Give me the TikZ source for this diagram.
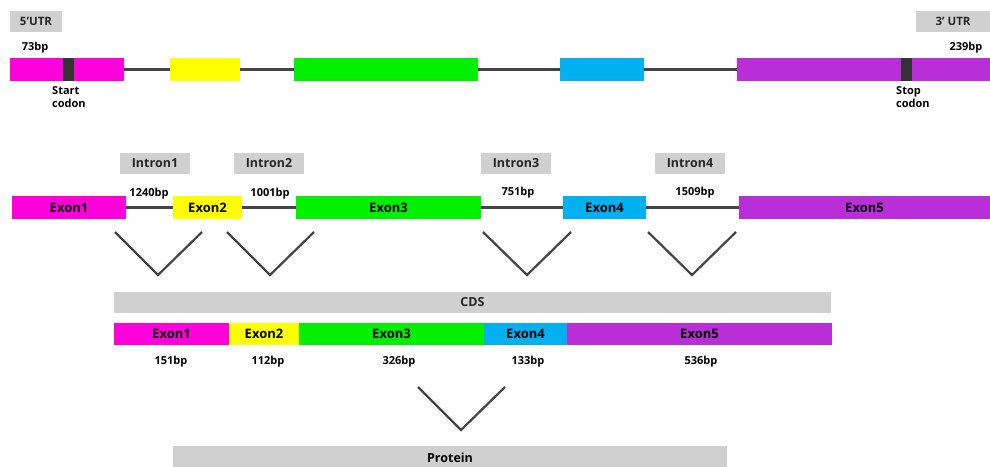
\documentclass[tikz,border=0pt]{standalone}
\usepackage{fontspec}
\setmainfont{Open Sans}
\definecolor{cMag}{HTML}{FF00DC}
\definecolor{cYel}{HTML}{FFFF00}
\definecolor{cGrn}{HTML}{00F000}
\definecolor{cBlu}{HTML}{00B0F0}
\definecolor{cPur}{HTML}{B92ED8}
\definecolor{cGry}{HTML}{D0D0D0}
\definecolor{cLin}{HTML}{444444}
\definecolor{cCod}{HTML}{333333}
\begin{document}
\begin{tikzpicture}[x=1pt,y=-1pt,
  box/.style={rectangle,inner sep=0pt,outer sep=0pt,draw=none,anchor=west,minimum height=23pt},
  lbl/.style={rectangle,inner sep=0pt,outer sep=0pt,fill=cGry,anchor=west,minimum height=21pt,font=\bfseries\fontsize{12.5}{14}\selectfont,text=black!85},
  ex/.style={font=\bfseries\fontsize{13}{14}\selectfont},
  bp/.style={inner sep=0pt,font=\bfseries\fontsize{11}{13}\selectfont},
  intron/.style={draw=cLin,line width=3pt},
  vee/.style={draw=cLin,line width=2.2pt}]
\useasboundingbox (0,0) rectangle (990,466);
% ---- top row
\node[box,fill=cMag,minimum width=114pt] (t1) at (10,69.5) {};
\node[box,fill=cYel,minimum width=70pt] (t2) at (170,69.5) {};
\node[box,fill=cGrn,minimum width=184pt] (t3) at (294,69.5) {};
\node[box,fill=cBlu,minimum width=84pt] (t4) at (560,69.5) {};
\node[box,fill=cPur,minimum width=253pt] (t5) at (737,69.5) {};
\draw[intron] (t1.east) -- (t2.west);
\draw[intron] (t2.east) -- (t3.west);
\draw[intron] (t3.east) -- (t4.west);
\draw[intron] (t4.east) -- (t5.west);
\node[box,fill=cCod,minimum width=11pt] (sc) at (63,69.5) {};
\node[box,fill=cCod,minimum width=11pt] (pc) at (901,69.5) {};
\node[lbl,minimum width=52pt,font=\bfseries\fontsize{11.5}{13}\selectfont] (utr5) at (10,21) {5’UTR};
\node[lbl,minimum width=74pt,font=\bfseries\fontsize{11.5}{13}\selectfont] (utr3) at (916,21) {3’ UTR};
\node[bp] (b73) at (35,48) {73bp};
\node[bp] (b239) at (966,48) {239bp};
\node[bp,align=left,anchor=north west] (stc) at (52,86) {Start\\codon};
\node[bp,align=left,anchor=north west] (spc) at (896,86) {Stop\\codon};
% ---- middle row
\node[box,fill=cMag,minimum width=114pt,ex] (m1) at (12,207.5) {Exon1};
\node[box,fill=cYel,minimum width=69pt,ex] (m2) at (173,207.5) {Exon2};
\node[box,fill=cGrn,minimum width=185pt,ex] (m3) at (296,207.5) {Exon3};
\node[box,fill=cBlu,minimum width=83pt,ex] (m4) at (563,207.5) {Exon4};
\node[box,fill=cPur,minimum width=251pt,ex] (m5) at (739,207.5) {Exon5};
\draw[intron] (m1.east) -- (m2.west);
\draw[intron] (m2.east) -- (m3.west);
\draw[intron] (m3.east) -- (m4.west);
\draw[intron] (m4.east) -- (m5.west);
\node[lbl,minimum width=70pt] (i1) at (120,163.5) {Intron1};
\node[lbl,minimum width=70pt] (i2) at (234,163.5) {Intron2};
\node[lbl,minimum width=70pt] (i3) at (481,163.5) {Intron3};
\node[lbl,minimum width=70pt] (i4) at (655,163.5) {Intron4};
\node[bp] (l1) at (149,194) {1240bp};
\node[bp] (l2) at (270,194) {1001bp};
\node[bp] (l3) at (518,193) {751bp};
\node[bp] (l4) at (695,193) {1509bp};
% ---- vees
\coordinate (v1a) at (115,232); \coordinate (v1b) at (158,275); \coordinate (v1c) at (202,232);
\coordinate (v2a) at (227,232); \coordinate (v2b) at (270,275); \coordinate (v2c) at (314,232);
\coordinate (v3a) at (483,232); \coordinate (v3b) at (527,275); \coordinate (v3c) at (571,232);
\coordinate (v4a) at (648,232); \coordinate (v4b) at (692,275); \coordinate (v4c) at (736,232);
\draw[vee] (v1a) -- (v1b) -- (v1c);
\draw[vee] (v2a) -- (v2b) -- (v2c);
\draw[vee] (v3a) -- (v3b) -- (v3c);
\draw[vee] (v4a) -- (v4b) -- (v4c);
% ---- CDS
\node[lbl,minimum width=717pt] (cds) at (114,302) {CDS};
\node[box,fill=cMag,minimum width=115pt,minimum height=22pt,ex] (c1) at (114,334) {Exon1};
\node[box,fill=cYel,minimum width=70pt,minimum height=22pt,ex] (c2) at (229,334) {Exon2};
\node[box,fill=cGrn,minimum width=185pt,minimum height=22pt,ex] (c3) at (299,334) {Exon3};
\node[box,fill=cBlu,minimum width=83pt,minimum height=22pt,ex] (c4) at (484,334) {Exon4};
\node[box,fill=cPur,minimum width=265pt,minimum height=22pt,ex] (c5) at (567,334) {Exon5};
\node[bp] (k1) at (171,362) {151bp};
\node[bp] (k2) at (268,362) {112bp};
\node[bp] (k3) at (399,362) {326bp};
\node[bp] (k4) at (528,362) {133bp};
\node[bp] (k5) at (701,362) {536bp};
\coordinate (pa) at (418,387); \coordinate (pb) at (461,430); \coordinate (pc2) at (505,387);
\draw[vee] (pa) -- (pb) -- (pc2);
\node[rectangle,inner sep=0pt,fill=cGry,anchor=north west,minimum width=554pt,minimum height=24pt] (prot) at (173,446) {};
\node[font=\bfseries\fontsize{12.5}{14}\selectfont,inner sep=0pt] (ptxt) at (450,458) {Protein};
\end{tikzpicture}
\end{document}
